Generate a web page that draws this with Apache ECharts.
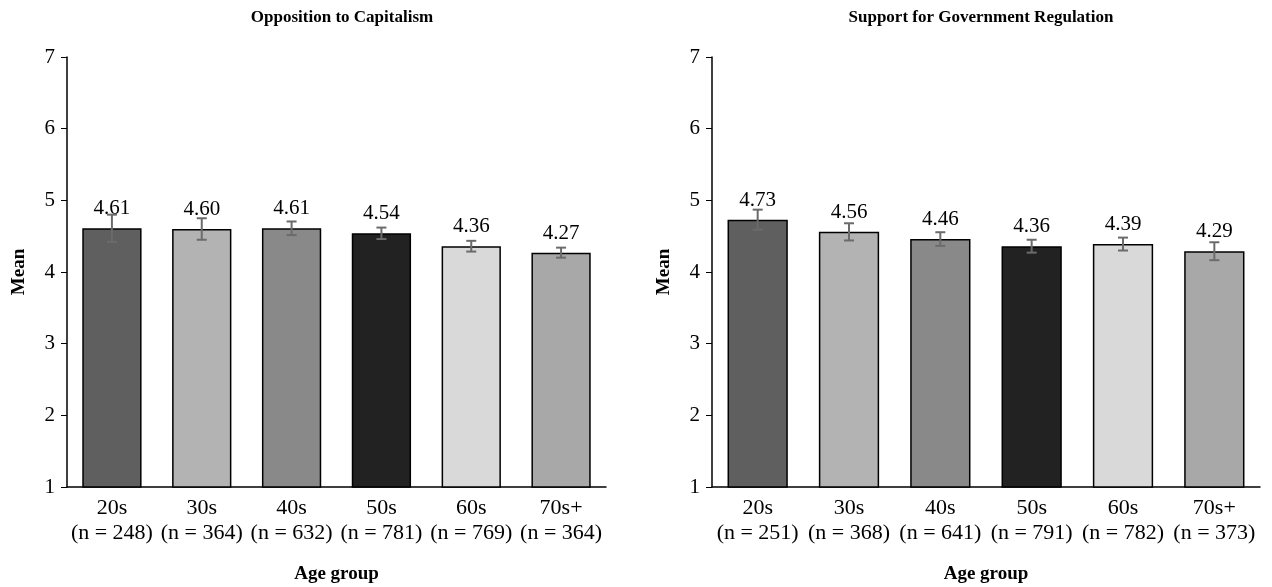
<!DOCTYPE html>
<html lang="en">
<head>
  <meta charset="UTF-8">
  <title>Age group means</title>
  <script src="https://cdn.jsdelivr.net/npm/echarts@6/dist/echarts.min.js"></script>
  <style>
    * { margin: 0; padding: 0; }
    body { background: #fff; }
    #chart { width: 1272px; height: 587px; }
  </style>
</head>
<body>
  <div id="chart"></div>
  <script>
    // data
    const ageGroups = ['20s', '30s', '40s', '50s', '60s', '70s+'];
    const capN = [248, 364, 632, 781, 769, 364];
    const regN = [251, 368, 641, 791, 782, 373];
    const capMeans = [4.61, 4.60, 4.61, 4.54, 4.36, 4.27];
    const capErr = [0.19, 0.15, 0.095, 0.08, 0.075, 0.07];
    const regMeans = [4.73, 4.56, 4.46, 4.36, 4.39, 4.29];
    const regErr = [0.14, 0.12, 0.095, 0.09, 0.09, 0.125];
    const barColors = ['#5f5f5f', '#b3b3b3', '#898989', '#222222', '#d9d9d9', '#a8a8a8'];
    const yTicks = [1, 2, 3, 4, 5, 6, 7];

    const font = '"Liberation Serif", "Times New Roman", serif';
    const chart = echarts.init(document.getElementById('chart'));

    function catLabels(ns) {
      return ageGroups.map((g, i) => g + '\n(n = ' + ns[i] + ')');
    }

    function xAxisFor(idx, ns) {
      return {
        type: 'category',
        gridIndex: idx,
        data: catLabels(ns),
        name: 'Age group',
        nameLocation: 'middle',
        nameGap: 78,
        nameTextStyle: { fontFamily: font, fontWeight: 'bold', fontSize: 19, color: '#000' },
        axisLine: { lineStyle: { color: '#000', width: 1.5 } },
        axisTick: { alignWithLabel: true, length: 5, lineStyle: { color: '#000' } },
        axisLabel: { fontFamily: font, fontSize: 22, color: '#000', margin: 9, lineHeight: 25, interval: 0 }
      };
    }

    function yAxisFor(idx) {
      return {
        type: 'value',
        gridIndex: idx,
        min: yTicks[0],
        max: yTicks[yTicks.length - 1],
        interval: 1,
        name: 'Mean',
        nameLocation: 'middle',
        nameGap: 38,
        nameTextStyle: { fontFamily: font, fontWeight: 'bold', fontSize: 19, color: '#000' },
        splitLine: { show: false },
        axisLine: { show: true, lineStyle: { color: '#000', width: 1.5 } },
        axisTick: { show: true, length: 6, lineStyle: { color: '#000' } },
        axisLabel: { fontFamily: font, fontSize: 21, color: '#000', margin: 12 }
      };
    }

    function barSeries(idx, means) {
      return {
        type: 'bar',
        xAxisIndex: idx,
        yAxisIndex: idx,
        barWidth: '66%',
        z: 2,
        data: means.map((v, i) => ({ value: v, itemStyle: { color: barColors[i] } })),
        itemStyle: { borderColor: '#000', borderWidth: 1.5 },
        label: {
          show: true,
          position: 'top',
          distance: 9,
          formatter: p => p.value.toFixed(2),
          fontFamily: font,
          fontSize: 21,
          color: '#000'
        }
      };
    }

    function errSeries(idx, means, errs) {
      return {
        type: 'custom',
        xAxisIndex: idx,
        yAxisIndex: idx,
        z: 3,
        data: means.map((v, i) => [i, v - errs[i], v + errs[i]]),
        renderItem: function (params, api) {
          const lo = api.coord([api.value(0), api.value(1)]);
          const hi = api.coord([api.value(0), api.value(2)]);
          const w = 5;
          const style = { stroke: '#6b6b6b', lineWidth: 2 };
          return {
            type: 'group',
            children: [
              { type: 'line', shape: { x1: lo[0], y1: lo[1], x2: hi[0], y2: hi[1] }, style: style },
              { type: 'line', shape: { x1: lo[0] - w, y1: lo[1], x2: lo[0] + w, y2: lo[1] }, style: style },
              { type: 'line', shape: { x1: hi[0] - w, y1: hi[1], x2: hi[0] + w, y2: hi[1] }, style: style }
            ]
          };
        }
      };
    }

    chart.setOption({
      animation: false,
      title: [
        { text: 'Opposition to Capitalism', left: 337, top: 4, textAlign: 'center',
          textStyle: { fontFamily: font, fontWeight: 'bold', fontSize: 17, color: '#000' } },
        { text: 'Support for Government Regulation', left: 976, top: 4, textAlign: 'center',
          textStyle: { fontFamily: font, fontWeight: 'bold', fontSize: 17, color: '#000' } }
      ],
      grid: [
        { left: 67, top: 57, width: 539, height: 430, outerBoundsMode: 'none' },
        { left: 712, top: 57, width: 548, height: 430, outerBoundsMode: 'none' }
      ],
      xAxis: [xAxisFor(0, capN), xAxisFor(1, regN)],
      yAxis: [yAxisFor(0), yAxisFor(1)],
      series: [
        barSeries(0, capMeans),
        errSeries(0, capMeans, capErr),
        barSeries(1, regMeans),
        errSeries(1, regMeans, regErr)
      ]
    });
  </script>
</body>
</html>
